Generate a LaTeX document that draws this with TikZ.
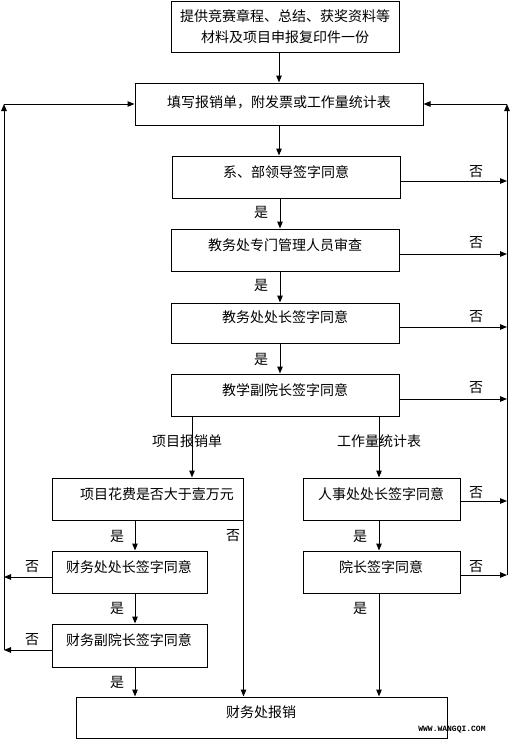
\documentclass[tikz,border=0pt]{standalone}
\usepackage{fontspec}
\setmainfont{Noto Sans CJK SC}
\newfontfamily\wmfont{Liberation Mono}
\usetikzlibrary{arrows.meta}
\tikzset{
  box/.style={draw, line width=1pt, inner sep=0pt, rectangle},
  txt/.style={inner sep=0pt, font=\fontsize{14}{16}\selectfont},
  arr/.style={line width=1pt, -{Triangle[length=7pt,width=5.5pt]}},
  ln/.style={line width=1pt},
}
\begin{document}
\begin{tikzpicture}[x=1pt,y=-1pt]
\useasboundingbox (0,0) rectangle (514,740);
% boxes
\node[box, minimum width=228, minimum height=51] (b1) at (285,26.5) {};
\node[box, minimum width=288, minimum height=42] (b2) at (279,104) {};
\node[box, minimum width=228, minimum height=42] (b3) at (286,177) {};
\node[box, minimum width=228, minimum height=42] (b4) at (285,250) {};
\node[box, minimum width=228, minimum height=40] (b5) at (285,323) {};
\node[box, minimum width=228, minimum height=42] (b6) at (285,395) {};
\node[box, minimum width=191, minimum height=42] (b7) at (147.5,499) {};
\node[box, minimum width=157, minimum height=42] (b8) at (381.5,499) {};
\node[box, minimum width=155, minimum height=42] (b9) at (129.5,572) {};
\node[box, minimum width=157, minimum height=42] (b10) at (381.5,572) {};
\node[box, minimum width=155, minimum height=43] (b11) at (129.5,645.5) {};
\node[box, minimum width=371, minimum height=41] (b12) at (261.5,717.5) {};
% box texts
\node[txt] (t1a) at (285,16) {提供竞赛章程、总结、获奖资料等};
\node[txt] (t1b) at (285,37) {材料及项目申报复印件一份};
\node[txt] (t2) at (279,102) {填写报销单，附发票或工作量统计表};
\node[txt] (t3) at (286,172) {系、部领导签字同意};
\node[txt] (t4) at (285,245) {教务处专门管理人员审查};
\node[txt] (t5) at (285,317) {教务处处长签字同意};
\node[txt] (t6) at (285,390) {教学副院长签字同意};
\node[txt] (t7) at (157,494) {项目花费是否大于壹万元};
\node[txt] (t8) at (381,494) {人事处处长签字同意};
\node[txt] (t9) at (129,567) {财务处处长签字同意};
\node[txt] (t10) at (381,567) {院长签字同意};
\node[txt] (t11) at (129,640) {财务副院长签字同意};
\node[txt] (t12) at (261,712) {财务处报销};
% coordinates
\coordinate (sp) at (280,0);
\coordinate (L) at (4,0);
\coordinate (R) at (507,0);
\coordinate (ltop) at (4,104);
\coordinate (rtop) at (507,104);
\coordinate (lbot) at (4,650);
\coordinate (rbot) at (507,575);
% main spine
\draw[arr] (b1.south -| b2.north) -- (b2.north);
\draw[arr] (b2.south) -- (b2.south |- b3.north);
\draw[arr] (sp |- b3.south) -- (sp |- b4.north);
\draw[arr] (sp |- b4.south) -- (sp |- b5.north);
\draw[arr] (sp |- b5.south) -- (sp |- b6.north);
% branches
\coordinate (bl) at (192,0);
\coordinate (br) at (379,0);
\draw[arr] (bl |- b6.south) -- (bl |- b7.north);
\draw[arr] (br |- b6.south) -- (br |- b8.north);
\coordinate (cl) at (135,0);
\draw[arr] (cl |- b7.south) -- (cl |- b9.north);
\draw[arr] (cl |- b9.south) -- (cl |- b11.north);
\draw[arr] (cl |- b11.south) -- (cl |- b12.north);
\draw[arr] (b7.south east) -- (b7.south east |- b12.north);
\draw[arr] (br |- b8.south) -- (br |- b10.north);
\draw[arr] (br |- b10.south) -- (br |- b12.north);
% right "no" arrows
\draw[arr] ([yshift=-4]b3.east) -- ([yshift=-4]b3.east -| R);
\draw[arr] ([yshift=-4]b4.east) -- ([yshift=-4]b4.east -| R);
\draw[arr] ([yshift=-4]b5.east) -- ([yshift=-4]b5.east -| R);
\draw[arr] ([yshift=-4]b6.east) -- ([yshift=-4]b6.east -| R);
\draw[arr] ([yshift=-2]b8.east) -- ([yshift=-2]b8.east -| R);
\draw[arr] ([yshift=-3]b10.east) -- ([yshift=-3]b10.east -| R);
% left "no" arrows
\draw[arr] ([yshift=-5]b9.west) -- ([yshift=-5]b9.west -| L);
\draw[arr] ([yshift=-4.5]b11.west) -- ([yshift=-4.5]b11.west -| L);
% return loops
\draw[arr] (rbot) -- (rtop);
\draw[arr] (rtop) -- (b2.east);
\draw[arr] (lbot) -- (ltop);
\draw[arr] (ltop) -- (b2.west);
% labels
\node[txt] (n1) at (476,172) {否};
\node[txt] (n2) at (476,243) {否};
\node[txt] (n3) at (476,317) {否};
\node[txt] (n4) at (476,388) {否};
\node[txt] (n5) at (476,493) {否};
\node[txt] (n6) at (476,567) {否};
\node[txt] (n7) at (32,567) {否};
\node[txt] (n8) at (32,640) {否};
\node[txt] (n9) at (233,536) {否};
\node[txt] (y1) at (261,212) {是};
\node[txt] (y2) at (261,285) {是};
\node[txt] (y3) at (261,359) {是};
\node[txt] (y4) at (117,536) {是};
\node[txt] (y5) at (360,536) {是};
\node[txt] (y6) at (117,608) {是};
\node[txt] (y7) at (117,682) {是};
\node[txt] (y8) at (360,608) {是};
\node[txt] (p1) at (187,441) {项目报销单};
\node[txt] (p2) at (379,441) {工作量统计表};
\node[inner sep=0pt, font=\wmfont\bfseries\fontsize{8}{8}\selectfont] (wm) at (452,730) {WWW.WANGQI.COM};
\end{tikzpicture}
\end{document}
